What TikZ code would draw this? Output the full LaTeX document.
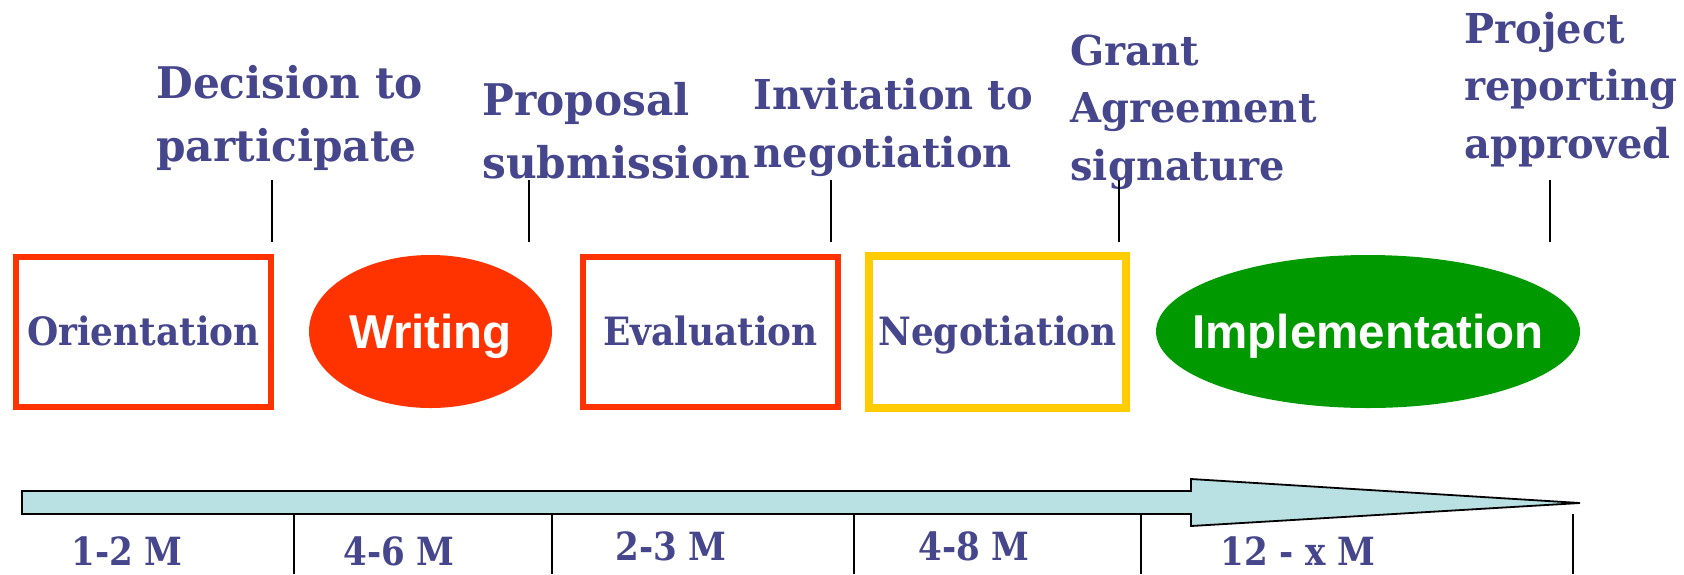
\documentclass[tikz,border=0pt]{standalone}
\usepackage{fontspec}
\newfontfamily\lblfont{DejaVu Serif}[FakeStretch=0.97]
\newfontfamily\boxfont{DejaVu Serif}[FakeStretch=0.92]
\newfontfamily\durfont{DejaVu Serif}[FakeStretch=0.88]
\newfontfamily\sansb{Liberation Sans}
\usetikzlibrary{shapes.geometric}
\definecolor{txtblue}{RGB}{70,70,140}
\definecolor{redor}{RGB}{255,51,0}
\definecolor{goldy}{RGB}{255,204,0}
\definecolor{grn}{RGB}{0,153,0}
\definecolor{arrowfill}{RGB}{185,224,226}
\begin{document}
\begin{tikzpicture}[x=0.5pt,y=-0.5pt,
  biglbl/.style={anchor=base west, inner sep=0pt, text=txtblue,
    font=\lblfont\bfseries\fontsize{21.8}{31.7}\selectfont},
  smalllbl/.style={anchor=base west, inner sep=0pt, text=txtblue,
    font=\lblfont\bfseries\fontsize{20.6}{28.75}\selectfont},
  phasebox/.style={draw, rectangle, line width=3.3pt, inner sep=0pt,
    minimum width=127.5pt, minimum height=75pt, text=txtblue,
    font=\boxfont\bfseries\fontsize{19.5}{20}\selectfont,
    text height=13.5pt, text depth=0pt},
  phaseoval/.style={ellipse, inner ysep=0pt, inner xsep=-20pt, draw=none, text=white,
    font=\sansb\bfseries\fontsize{23.75}{26}\selectfont,
    text height=17pt, text depth=0pt},
  dur/.style={anchor=base, inner sep=0pt, text=txtblue,
    font=\durfont\bfseries\fontsize{19.4}{22}\selectfont},
  tick/.style={draw=black, line width=0.75pt},
  timearrow/.style={draw=black, line width=0.9pt, fill=arrowfill, line join=miter}
]
\useasboundingbox (0,0) rectangle (1684,574);

% milestone labels
\node[biglbl] (decision) at (156,98.5)
  {\begin{tabular}[t]{@{}l@{}}Decision to\\participate\end{tabular}};
\node[biglbl] (proposal) at (482,115)
  {\begin{tabular}[t]{@{}l@{}}Proposal\\submission\end{tabular}};
\node[smalllbl,font=\lblfont\bfseries\fontsize{20.6}{29.2}\selectfont] (invitation) at (753.5,109)
  {\begin{tabular}[t]{@{}l@{}}Invitation to\\negotiation\end{tabular}};
\node[smalllbl] (grant) at (1070,65)
  {\begin{tabular}[t]{@{}l@{}}Grant\\Agreement\\signature\end{tabular}};
\node[smalllbl] (project) at (1464,43.3)
  {\begin{tabular}[t]{@{}l@{}}Project\\reporting\\approved\end{tabular}};

% milestone ticks
\foreach \n/\x in {1/272,2/529,3/831,4/1119,5/1550}{
  \coordinate (mt\n) at (\x,180);
  \coordinate (mb\n) at (\x,242);
  \draw[tick] (mt\n) -- (mb\n);
}

% phases
\node[phasebox, draw=redor] (orientation) at (143.5,332) {Orientation};
\node[phaseoval, fill=redor, minimum width=121.5pt, minimum height=76.5pt] (writing) at (430.5,331.5) {Writing};
\node[phasebox, draw=redor] (evaluation) at (710.5,332) {Evaluation};
\node[phasebox, draw=goldy, line width=4pt, minimum width=128.5pt, minimum height=76pt] (negotiation) at (997.5,332) {Negotiation};
\node[phaseoval, fill=grn, minimum width=212pt, minimum height=76.5pt] (implementation) at (1368,331.5) {Implementation};

% time arrow
\draw[timearrow] (22,491) -- (1191,491) -- (1191,479) -- (1580,503)
  -- (1191,526) -- (1191,514) -- (22,514) -- cycle;

% duration ticks
\foreach \n/\x in {1/294,2/552,3/854,4/1141,5/1573}{
  \coordinate (dt\n) at (\x,514);
  \coordinate (db\n) at (\x,574);
  \draw[tick] (dt\n) -- (db\n);
}

% durations
\node[dur] (d1) at (127,565) {1-2 M};
\node[dur] (d2) at (399,565) {4-6 M};
\node[dur] (d3) at (671,560) {2-3 M};
\node[dur] (d4) at (974,560) {4-8 M};
\node[dur] (d5) at (1298,565) {12 - x M};
\end{tikzpicture}
\end{document}
